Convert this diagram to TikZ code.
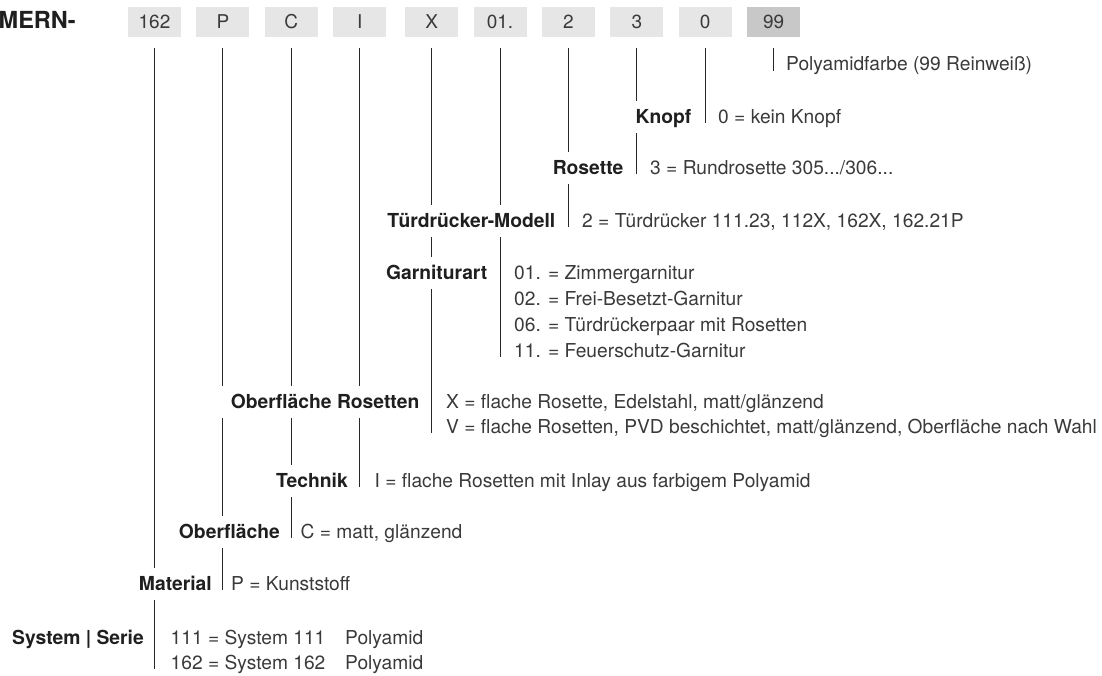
\documentclass[tikz,border=0pt]{standalone}
\usepackage{fontspec}
\setmainfont{TeX Gyre Heros}
\usepackage{tikz}
\usetikzlibrary{positioning,backgrounds}
\usepackage{xcolor}
\definecolor{kastengrau}{RGB}{230,230,231}
\definecolor{kastendunkel}{RGB}{200,200,201}
\definecolor{textgrau}{RGB}{58,58,58}
\definecolor{liniengrau}{RGB}{40,40,40}

\begin{document}
\begin{tikzpicture}[
        x=1pt, y=-1pt,
        node distance=15pt,
        feld/.style={rectangle, fill=kastengrau, minimum width=53pt, minimum height=30pt, inner sep=0pt, text height=13.5pt, text depth=0pt, font=\fontsize{19}{22}\selectfont, text=textgrau},
        stufe/.style={anchor=base east, fill=white, inner xsep=10pt, inner ysep=8pt, text height=14pt, text depth=2pt, font=\fontsize{19.3}{22}\selectfont\bfseries, text=black!88},
        wert/.style={anchor=base west, inner sep=0pt, font=\fontsize{19.2}{22}\selectfont, text=textgrau},
        stiel/.style={draw=liniengrau, line width=1pt}
    ]
        \useasboundingbox (0,0) rectangle (1102,675);

        % Kopfzeile
        \node[anchor=base west, inner sep=0pt, font=\fontsize{23.5}{26}\selectfont\bfseries, text=black!88] (mern) at (-1.5,28) {MERN-};
        \node[feld] (b162) at (154.5,22) {162};
        \node[feld, right=of b162] (bP) {P};
        \node[feld, right=of bP] (bC) {C};
        \node[feld, right=of bC] (bI) {I};
        \node[feld, right=18.5pt of bI] (bX) {X};
        \node[feld, right=of bX] (b01) {01.};
        \node[feld, right=of b01] (b2) {2};
        \node[feld, right=of b2] (b3) {3};
        \node[feld, right=of b3] (b0) {0};
        \node[feld, fill=kastendunkel, right=of b0] (b99) {99};

        % Stufen und Werte
        \node[wert] (farbe) at (786,70) {Polyamidfarbe (99 Reinweiß)};

        \node[stufe] (knopf) at (701.5,123) {Knopf};
        \node[wert] (knopf1) at (718,123) {0 = kein Knopf};

        \node[stufe] (rosette) at (633.5,174) {Rosette};
        \node[wert] (rosette1) at (650,174) {3 = Rundrosette 305.../306...};

        \node[stufe] (modell) at (565.5,227) {Türdrücker-Modell};
        \node[wert] (modell1) at (582,227) {2 = Türdrücker 111.23, 112X, 162X, 162.21P};

        \node[stufe] (garnitur) at (497.5,279) {Garniturart};
        \node[wert] (garnitur1) at (514,279) {01. = Zimmergarnitur};
        \node[wert] (garnitur2) at (514,305) {02. = Frei-Besetzt-Garnitur};
        \node[wert] (garnitur3) at (514,331) {06. = Türdrückerpaar mit Rosetten};
        \node[wert] (garnitur4) at (514,357) {11. = Feuerschutz-Garnitur};

        \node[stufe] (orosetten) at (429.5,408) {Oberfläche Rosetten};
        \node[wert] (orosetten1) at (446,408) {X = flache Rosette, Edelstahl, matt/glänzend};
        \node[wert] (orosetten2) at (446,433) {V = flache Rosetten, PVD beschichtet, matt/glänzend, Oberfläche nach Wahl};

        \node[stufe] (technik) at (358,487) {Technik};
        \node[wert] (technik1) at (374.5,487) {I = flache Rosetten mit Inlay aus farbigem Polyamid};

        \node[stufe] (oberflaeche) at (290,538) {Oberfläche};
        \node[wert] (oberflaeche1) at (300.5,538) {C = matt, glänzend};

        \node[stufe] (material) at (222,590) {Material};
        \node[wert] (material1) at (231,590) {P = Kunststoff};

        \node[stufe] (system) at (154,644) {System | Serie};
        \node[wert] (system1) at (170.5,644) {111 = System 111};
        \node[wert] (system2) at (170.5,669) {162 = System 162};
        \node[wert] (poly1) at (345,644) {Polyamid};
        \node[wert] (poly2) at (345,669) {Polyamid};

        % Stiele hinter den Beschriftungen
        \begin{scope}[on background layer]
            \draw[stiel] ([yshift=-11pt]b162.south) -- (b162.south |- system2.base);
            \draw[stiel] ([yshift=-11pt]bP.south) -- (bP.south |- material1.base);
            \draw[stiel] ([yshift=-11pt]bC.south) -- (bC.south |- oberflaeche1.base);
            \draw[stiel] ([yshift=-11pt]bI.south) -- (bI.south |- technik1.base);
            \draw[stiel] ([yshift=-11pt]bX.south) -- (bX.south |- orosetten2.base);
            \draw[stiel] ([yshift=-11pt]b01.south) -- (b01.south |- garnitur4.base);
            \draw[stiel] ([yshift=-11pt]b2.south) -- (b2.south |- modell1.base);
            \draw[stiel] ([yshift=-11pt]b3.south) -- (b3.south |- rosette1.base);
            \draw[stiel] ([yshift=-11pt]b0.south) -- (b0.south |- knopf1.base);
            \draw[stiel] ([yshift=-11pt]b99.south) -- ([yshift=-1pt]b99.south |- farbe.base);
        \end{scope}

    \end{tikzpicture}
\end{document}
